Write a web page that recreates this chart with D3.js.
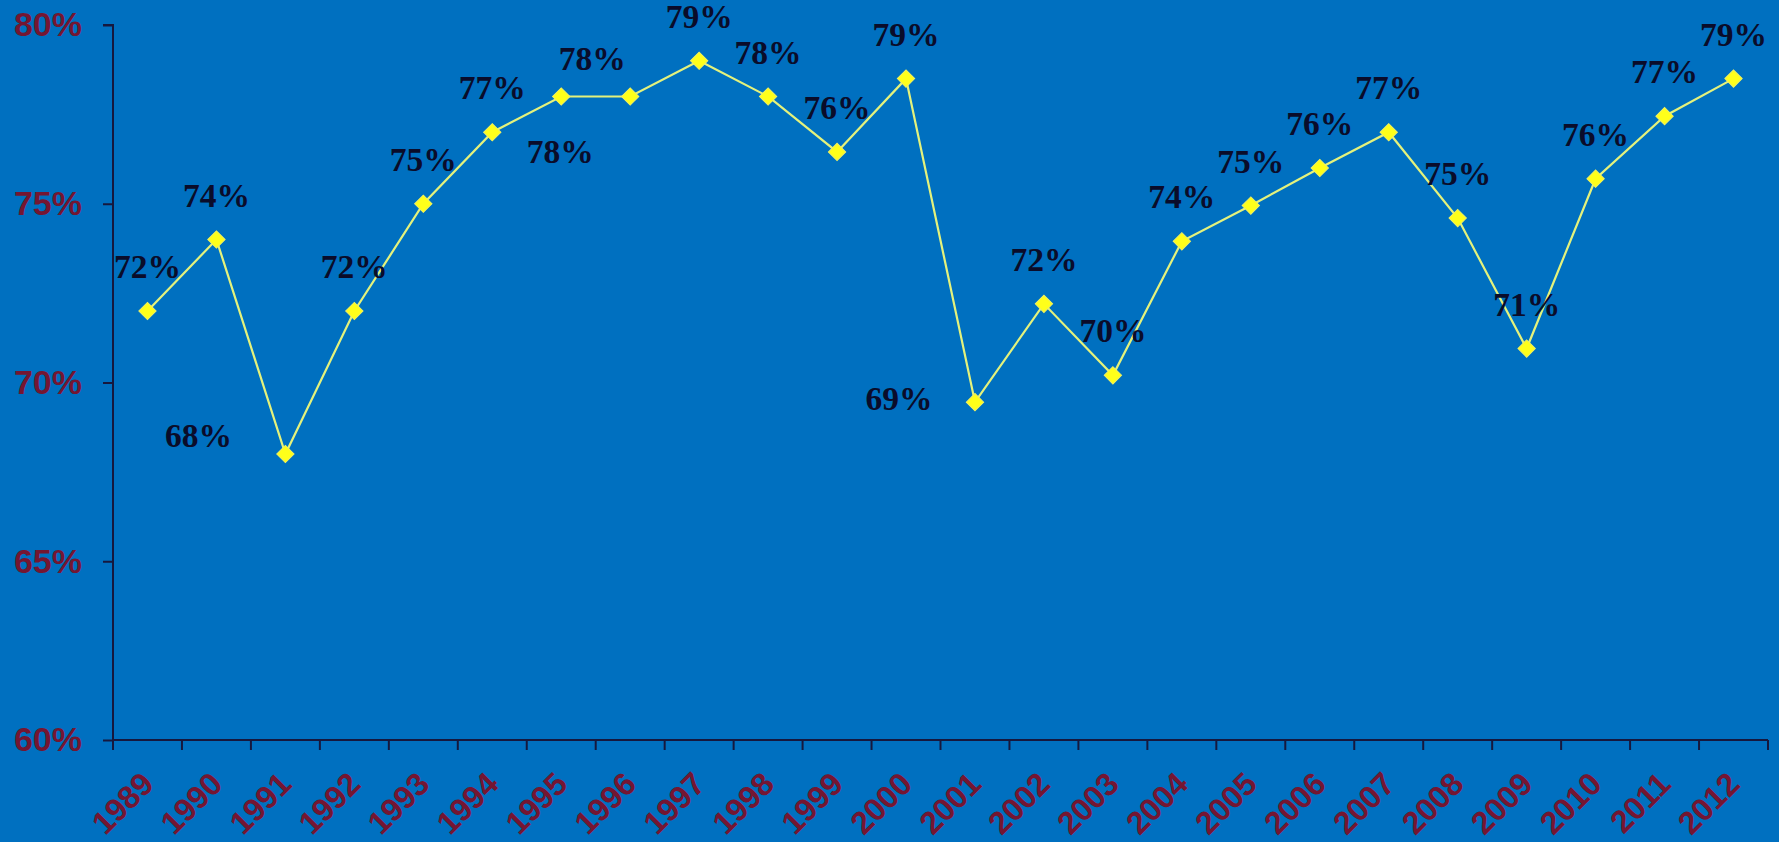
<!DOCTYPE html>
<html>
<head>
<meta charset="utf-8">
<script src="https://cdn.jsdelivr.net/npm/d3@7"></script>
<style>
  html, body { margin: 0; padding: 0; background: #0070c0; }
  svg { display: block; }
</style>
</head>
<body>
<svg id="chart" width="1779" height="842"></svg>
<script>
// Yearly share (%) 1989–2012
const years = ["1989","1990","1991","1992","1993","1994","1995","1996","1997","1998","1999","2000",
               "2001","2002","2003","2004","2005","2006","2007","2008","2009","2010","2011","2012"];
const shares = [72.0, 74.0, 68.0, 72.0, 75.0, 77.0, 78.0, 78.0, 79.0, 78.0, 76.45, 78.5,
                69.45, 72.2, 70.2, 73.95, 74.95, 76.0, 77.0, 74.6, 70.95, 75.7, 77.45, 78.5];
const yTicks = [60, 65, 70, 75, 80];
// where each value label sits relative to its marker
const labelSide = ["above","above","left","above","above","above","below","aboveLeft","above","above","above","above",
                   "left2","above","above","above","above","above","above","above","above","above","above","above"];

const W = 1779, H = 842;
const margin = { left: 113, right: 11, top: 25, bottom: 102 };

const svg = d3.select("#chart");
svg.append("rect").attr("width", W).attr("height", H).attr("fill", "#0070c0");

const x = d3.scaleBand().domain(years).range([margin.left, W - margin.right]).padding(0);
const y = d3.scaleLinear().domain([60, 80]).range([H - margin.bottom, margin.top]);

const axisColor = "#16183e";
const tickText = "#741632";

// y axis
const gy = svg.append("g")
  .attr("transform", `translate(${margin.left},0)`)
  .call(d3.axisLeft(y).tickValues(yTicks).tickSize(10).tickPadding(21)
        .tickFormat(d => d + "%"));
gy.select(".domain").attr("stroke", axisColor).attr("stroke-width", 2).attr("d", `M-10,${y(80)}H0V${y(60)}`);
gy.selectAll(".tick line").attr("stroke", axisColor).attr("stroke-width", 2);
gy.selectAll(".tick text")
  .attr("fill", tickText)
  .style("font-family", "'Liberation Sans', Arial, sans-serif")
  .style("font-weight", "bold")
  .style("font-size", "34px");

// x axis: boundary ticks between years, rotated year labels
const y0 = y(60);
const gx = svg.append("g");
gx.append("line")
  .attr("x1", margin.left).attr("x2", W - margin.right)
  .attr("y1", y0).attr("y2", y0)
  .attr("stroke", axisColor).attr("stroke-width", 2);
const bounds = years.map(d => x(d)).concat([x(years[years.length - 1]) + x.step()]);
gx.selectAll("line.tick").data(bounds).join("line")
  .attr("class", "tick")
  .attr("x1", d => d).attr("x2", d => d)
  .attr("y1", y0).attr("y2", y0 + 10)
  .attr("stroke", axisColor).attr("stroke-width", 2);
gx.selectAll("text.year").data(years).join("text")
  .attr("class", "year")
  .attr("transform", d => `translate(${x(d) + x.bandwidth() / 2 + 8},${y0 + 46}) rotate(-45)`)
  .attr("text-anchor", "end")
  .attr("fill", tickText)
  .style("font-family", "'Liberation Sans', Arial, sans-serif")
  .style("font-weight", "bold")
  .style("font-size", "32px")
  .text(d => d);

// series line
const pts = years.map((yr, i) => ({ yr, v: shares[i], side: labelSide[i] }));
const cx = d => x(d.yr) + x.bandwidth() / 2;
const line = d3.line().x(cx).y(d => y(d.v));
svg.append("path")
  .datum(pts)
  .attr("d", line)
  .attr("fill", "none")
  .attr("stroke", "#e4f27c")
  .attr("stroke-width", 2.2);

// diamond markers
const diamond = d3.symbol().type(d3.symbolSquare).size(150);
svg.selectAll("path.mark").data(pts).join("path")
  .attr("class", "mark")
  .attr("d", diamond)
  .attr("transform", d => `translate(${cx(d)},${y(d.v)}) rotate(45)`)
  .attr("fill", "#ffff1a")
  .attr("stroke", "#f0f060")
  .attr("stroke-width", 1);

// value labels
const offsets = {
  above:     [0, -33],
  below:     [-1, 66],
  aboveLeft: [-38, -27],
  left:      [-87, -7],
  left2:     [-76, 8]
};
svg.selectAll("text.val").data(pts).join("text")
  .attr("class", "val")
  .attr("x", d => cx(d) + offsets[d.side][0])
  .attr("y", d => y(d.v) + offsets[d.side][1])
  .attr("text-anchor", "middle")
  .attr("fill", "#0a0c2a")
  .style("font-family", "'Liberation Serif', 'Times New Roman', serif")
  .style("font-weight", "bold")
  .style("font-size", "33.5px")
  .text(d => Math.round(d.v) + "%");
</script>
</body>
</html>
